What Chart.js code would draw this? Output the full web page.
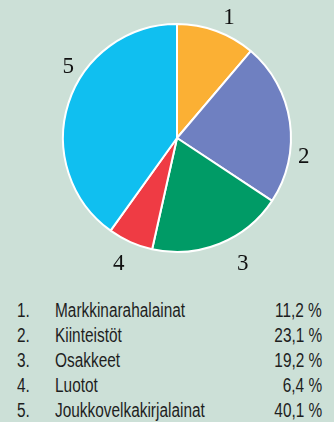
<!DOCTYPE html>
<html lang="fi">
<head>
<meta charset="utf-8">
<script src="https://cdn.jsdelivr.net/npm/chart.js@4/dist/chart.umd.min.js"></script>
<style>
  html, body { margin: 0; padding: 0; }
  body {
    width: 334px;
    height: 422px;
    background: #cce0d7;
    position: relative;
    overflow: hidden;
  }
  #pie { position: absolute; left: 0; top: 0; }
  .legend {
    position: absolute;
    left: 0;
    top: 298px;
    width: 334px;
    font-family: 'Liberation Sans', Arial, sans-serif;
    font-size: 20px;
    line-height: 25px;
    color: #1e1e1e;
  }
  .legend .row { position: relative; height: 25px; white-space: nowrap; }
  /* condensed look: squeeze the glyphs horizontally */
  .legend span { position: absolute; display: inline-block; }
  .legend .num { left: 17px; transform: scaleX(0.77); transform-origin: left center; }
  .legend .name { left: 55px; transform: scaleX(0.77); transform-origin: left center; }
  .legend .val { right: 12px; transform: scaleX(0.77); transform-origin: right center; }
</style>
</head>
<body>
<canvas id="pie" width="334" height="280"></canvas>
<div class="legend" id="legend"></div>

<script>
// Sijoitusjakauma
const labels = ['Markkinarahalainat', 'Kiinteistöt', 'Osakkeet', 'Luotot', 'Joukkovelkakirjalainat'];
const shares = [11.2, 23.1, 19.2, 6.4, 40.1];
const sliceNumbers = ['1', '2', '3', '4', '5'];
const sliceColors = ['#fbb034', '#6f80c1', '#009b66', '#ef3b44', '#10bff0'];

// number labels around the pie: angle nudge (deg) and distance past the rim (px)
const labelNudge = [2.8, 15.9, -6, 1, 16];
const labelGap = [19, 14, 26, 23, 17];

const outsideLabels = {
  id: 'outsideLabels',
  afterDatasetsDraw(chart) {
    const ctx = chart.ctx;
    const arcs = chart.getDatasetMeta(0).data;
    ctx.save();
    ctx.font = '23px "Liberation Serif", "DejaVu Serif", serif';
    ctx.fillStyle = '#111';
    ctx.textAlign = 'center';
    ctx.textBaseline = 'alphabetic';
    arcs.forEach((arc, i) => {
      const { x, y, startAngle, endAngle, outerRadius } = arc.getProps(['x', 'y', 'startAngle', 'endAngle', 'outerRadius'], true);
      const a = (startAngle + endAngle) / 2 + labelNudge[i] * Math.PI / 180;
      const r = outerRadius + labelGap[i];
      ctx.fillText(sliceNumbers[i], x + Math.cos(a) * r, y + Math.sin(a) * r + 8);
    });
    ctx.restore();
  }
};

new Chart(document.getElementById('pie'), {
  type: 'pie',
  data: {
    labels,
    datasets: [{
      data: shares,
      backgroundColor: sliceColors,
      borderColor: '#ffffff',
      borderWidth: 2,
    }],
  },
  options: {
    responsive: false,
    animation: false,
    radius: 114,
    layout: { padding: { left: 20, right: 0, top: 0, bottom: 4 } },
    plugins: {
      legend: { display: false },
      tooltip: { enabled: false },
    },
  },
  plugins: [outsideLabels],
});

// numbered list under the chart
const legendEl = document.getElementById('legend');
labels.forEach((name, i) => {
  const row = document.createElement('div');
  row.className = 'row';
  row.innerHTML =
    '<span class="num">' + sliceNumbers[i] + '.</span>' +
    '<span class="name">' + name + '</span>' +
    '<span class="val">' + shares[i].toFixed(1).replace('.', ',') + '\u00a0%</span>';
  legendEl.appendChild(row);
});
</script>
</body>
</html>
